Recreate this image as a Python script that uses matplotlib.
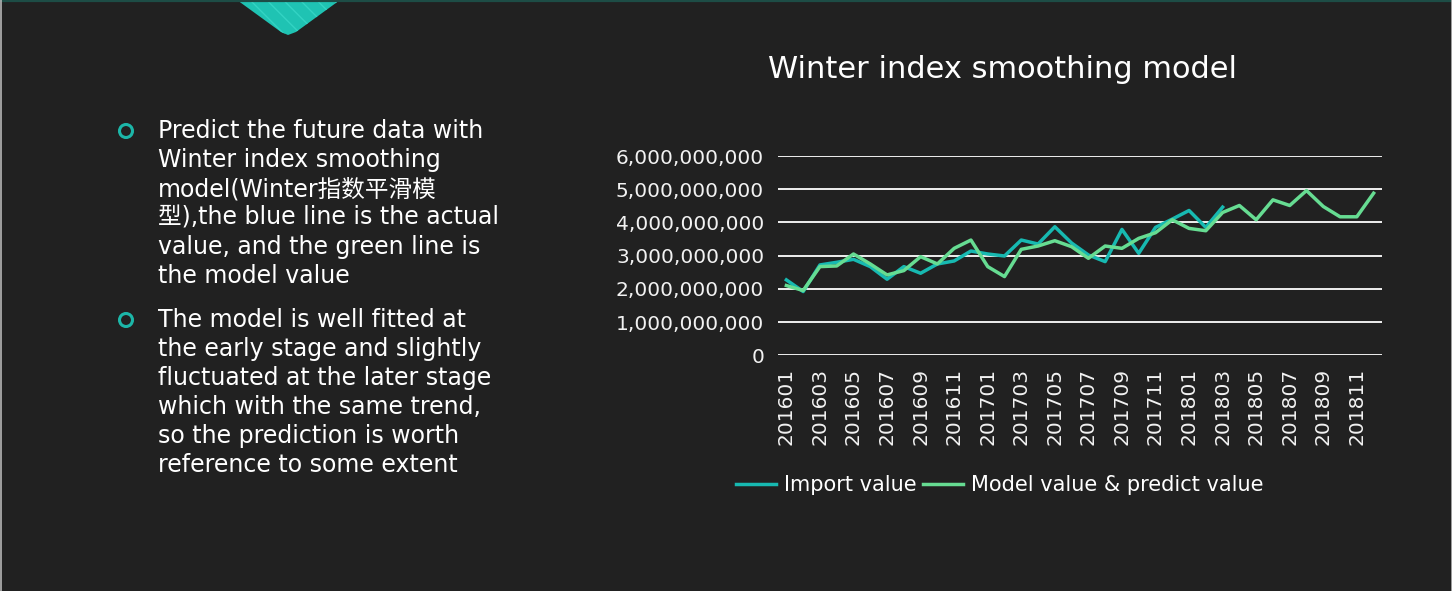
import numpy as np
from matplotlib import pyplot as plt
from matplotlib.patches import Polygon, Circle
from matplotlib.ticker import FuncFormatter

# categories (year + month)
months = ['201601', '201602', '201603', '201604', '201605', '201606',
          '201607', '201608', '201609', '201610', '201611', '201612',
          '201701', '201702', '201703', '201704', '201705', '201706',
          '201707', '201708', '201709', '201710', '201711', '201712',
          '201801', '201802', '201803', '201804', '201805', '201806',
          '201807', '201808', '201809', '201810', '201811', '201812']

# actual import value, in billions (ends at 201803)
importValue = [2.27, 1.92, 2.72, 2.80, 2.89, 2.67, 2.29, 2.67, 2.47, 2.75,
               2.84, 3.14, 3.05, 2.99, 3.47, 3.35, 3.87, 3.38, 3.02, 2.82,
               3.79, 3.07, 3.85, 4.10, 4.36, 3.85, 4.46]

# model + prediction, in billions
modelValue = [2.10, 1.95, 2.67, 2.69, 3.05, 2.75, 2.42, 2.55, 2.97, 2.75,
              3.22, 3.47, 2.67, 2.37, 3.19, 3.29, 3.45, 3.27, 2.92, 3.29,
              3.22, 3.52, 3.69, 4.08, 3.82, 3.75, 4.30, 4.51, 4.08, 4.68,
              4.51, 4.96, 4.48, 4.17, 4.17, 4.88]

yTicks = [0, 1e9, 2e9, 3e9, 4e9, 5e9, 6e9]

bulletLines = [
    ["Predict the future data with",
     "Winter index smoothing",
     "model(Winter指数平滑模",
     "型),the blue line is the actual",
     "value, and the green line is",
     "the model value"],
    ["The model is well fitted at",
     "the early stage and slightly",
     "fluctuated at the later stage",
     "which with the same trend,",
     "so the prediction is worth",
     "reference to some extent"],
]

BG = '#212121'
BLUE = '#17b9b1'
GREEN = '#66dc92'
TEAL = '#1fc3b3'
FONTS = ['DejaVu Sans', 'Noto Sans CJK SC']

plt.rcParams['font.family'] = FONTS

W, H = 1452, 591
fig = plt.figure(figsize=(W / 100, H / 100), dpi=100, facecolor=BG)

# background layer in pixel coordinates
bg = fig.add_axes([0, 0, 1, 1])
bg.set_xlim(0, W)
bg.set_ylim(H, 0)
bg.axis('off')

bg.plot([0, W], [0.8, 0.8], color='#1d4d46', lw=1.6)
bg.plot([0.5, 0.5], [0, H], color='#b5b5b5', lw=1.2)
bg.plot([W - 0.5, W - 0.5], [0, H], color='#b5b5b5', lw=1.2)

shape = Polygon([[237, 0], [340, 0], [296, 32], [288, 35], [281, 32]],
                closed=True, facecolor=TEAL, edgecolor='#33d3c3',
                hatch='\\\\', lw=0)
bg.add_patch(shape)

for k, lines in enumerate(bulletLines):
    y0 = 131 + k * 189
    bg.add_patch(Circle((126, y0), 6.5, fill=False, edgecolor='#1cb6a8', lw=2.2))
    for j, line in enumerate(lines):
        bg.text(158, y0 + j * 29, line, color='white', fontsize=17,
                va='center', ha='left', family=FONTS)

# chart
ax = fig.add_axes([778 / W, 1 - 355.3 / H, 604 / W, 199.3 / H])
ax.set_facecolor('none')
x = np.arange(len(months))
ax.plot(x[:len(importValue)], np.array(importValue) * 1e9, color=BLUE,
        lw=2.5, label='Import value', zorder=3)
ax.plot(x, np.array(modelValue) * 1e9, color=GREEN, lw=2.5,
        label='Model value & predict value', zorder=4)

ax.set_xlim(-0.5, len(months) - 0.5)
ax.set_ylim(0, 6e9)
ax.set_yticks(yTicks)
ax.yaxis.set_major_formatter(FuncFormatter(lambda v, p: '{:,.0f}'.format(v)))
ax.set_xticks(x[::2])
ax.set_xticklabels(months[::2], rotation=90)
ax.grid(axis='y', color='white', lw=1.3)
ax.set_axisbelow(True)
for s in ax.spines.values():
    s.set_visible(False)
ax.tick_params(axis='y', length=0, pad=10, labelsize=14.5, labelcolor='#f2f2f2')
ax.tick_params(axis='x', length=0, pad=9, labelsize=14.5, labelcolor='#f2f2f2')

fig.text(1002 / W, 1 - 70 / H, 'Winter index smoothing model', color='white',
         fontsize=22, ha='center', va='center')

fig.legend(loc='center', bbox_to_anchor=(1000 / W, 1 - 485 / H), ncol=2,
           frameon=False, fontsize=15, labelcolor='white', handlelength=1.9,
           handletextpad=0.4, columnspacing=0.3)

fig.savefig('out.png', dpi=100, facecolor=BG)
